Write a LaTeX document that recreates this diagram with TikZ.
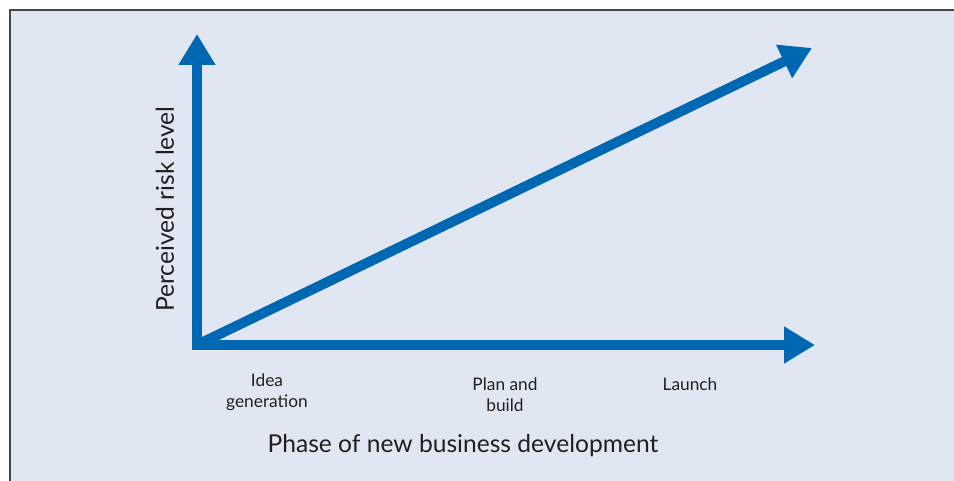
\documentclass[tikz,border=0pt]{standalone}
\usepackage{fontspec}
\setmainfont{Lato}
\usetikzlibrary{arrows.meta}
\definecolor{panelfill}{RGB}{224,230,242}
\definecolor{panelrule}{RGB}{70,70,72}
\definecolor{axisblue}{RGB}{0,103,178}
\definecolor{labelgrey}{RGB}{35,31,32}
\tikzset{
  axisline/.style={draw=axisblue, line width=10pt, line join=miter},
  bigtip/.style={-{Triangle[width=35pt,length=31pt]}},
  phase/.style={text=labelgrey, font=\fontsize{17.3}{21}\selectfont, align=center, inner sep=0pt},
  axislabel/.style={text=labelgrey, font=\fontsize{24.6}{28}\selectfont, inner sep=0pt},
}
\begin{document}
\begin{tikzpicture}[x=1pt,y=-1pt]
\useasboundingbox (0,0) rectangle (954,481);
% panel background and its frame
\fill[white] (0,0) rectangle (954,481);
\fill[panelfill] (10,10) rectangle (960,490);
\draw[panelrule, line width=2pt] (10,490) -- (10,10) -- (960,10);
% axes and trend line
\coordinate (origin) at (197,345);
\coordinate (ytip) at (197,34);
\coordinate (xtip) at (815,345);
\coordinate (trendtip) at (812,48);
\draw[axisline, {Triangle[width=35pt,length=31pt]}-{Triangle[width=35pt,length=31pt]}] (ytip) -- (origin) -- (xtip);
\draw[axisline, bigtip] (origin) -- (trendtip);
% labels
\node[axislabel, rotate=90] (ylab) at (165,209) {Perceived risk level};
\node[axislabel] (xlab) at (463,446) {Phase of new business development};
\node[phase] (idea) at (267,392.5) {Idea\\generation};
\node[phase] (plan) at (505,395) {Plan and\\build};
\node[phase] (launch) at (690,384) {Launch};
\end{tikzpicture}
\end{document}
